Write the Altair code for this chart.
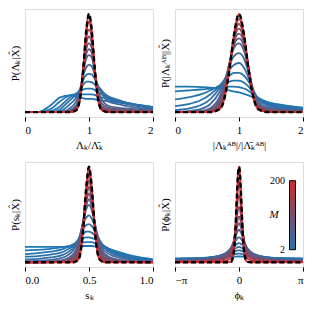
import altair as alt
import pandas as pd

M_VALUES = [2, 4, 8, 14, 22, 35, 55, 70, 85, 105, 130, 165, 200]

# Panel 1: Lambda_k / mean Lambda_k
X_LAMBDA = [0, 0.2, 0.4, 0.55, 0.7, 0.8, 0.86, 0.91, 0.96, 1.0, 1.04, 1.09,
            1.14, 1.2, 1.3, 1.45, 1.6, 1.8, 2.0]
Y_LAMBDA = [
    [0, 0, 7, 15, 17, 16, 15, 14, 13.5, 13.5, 13.5, 13, 12.5, 12, 11, 10, 8.5, 6.5, 5],
    [0, 0, 3, 11, 17, 18, 18, 18, 18, 18, 18, 17.5, 16, 15, 13, 11, 9, 7, 5],
    [0, 0, 1, 6, 15, 19, 21, 23, 24, 24, 24, 22.5, 20, 18, 15, 12, 9.5, 7, 5],
    [0, 0, 0, 3, 12, 18, 23, 28, 31, 31, 30.5, 28, 25, 21, 16, 12.5, 9.5, 6.5, 4.5],
    [0, 0, 0, 1, 8, 15, 24, 33, 38, 39, 38.5, 34, 27, 22, 14, 10.5, 8, 5.5, 4],
    [0, 0, 0, 0, 4, 11, 22, 37, 46, 48, 47, 38, 26, 19, 11, 8, 6, 4, 3],
    [0, 0, 0, 0, 2, 7, 19, 40, 55, 58, 56, 41, 22, 13, 6.5, 4.5, 3.5, 2.5, 2],
    [0, 0, 0, 0, 1, 5.5, 18, 41, 60, 64, 61, 41.5, 19, 9, 4.5, 3, 2.5, 1.7, 1.3],
    [0, 0, 0, 0, 0.5, 4.5, 17, 42, 65, 70, 66, 42, 17, 6, 3, 2, 1.5, 1, 0.7],
    [0, 0, 0, 0, 0.2, 3.5, 16, 42.5, 70, 77, 71, 42.5, 16, 4.5, 2, 1.2, 0.9, 0.6, 0.4],
    [0, 0, 0, 0, 0, 3, 15, 43, 76, 84, 76, 43, 15, 3.5, 1, 0.5, 0.3, 0.2, 0.1],
    [0, 0, 0, 0, 0, 2.5, 14.5, 43.5, 81, 92, 81, 43.5, 14.5, 2.7, 0.5, 0.2, 0.1, 0.1, 0],
    [0, 0, 0, 0, 0, 2, 14, 44, 85, 100, 85, 44, 14, 2, 0, 0, 0, 0, 0],
]

# Panel 2: |Lambda^AB_k| / |mean Lambda^AB_k|
X_LAMBDA_AB = [0, 0.2, 0.4, 0.55, 0.7, 0.78, 0.85, 0.92, 1.0, 1.08, 1.15, 1.22,
               1.3, 1.45, 1.6, 1.8, 2.0]
Y_LAMBDA_AB = [
    [26, 26, 25.5, 25, 24, 23, 22, 21, 20, 18.5, 17, 15, 13, 10, 8, 6, 4.5],
    [21, 22, 23, 24, 25, 25.5, 26, 26, 25.5, 24, 21.5, 18, 14.5, 10, 7.5, 5.5, 4],
    [13, 15, 18, 22, 27, 29, 31, 32, 32, 30, 26, 20, 14, 9, 6.5, 5, 3.5],
    [6, 8, 12, 18, 27, 33, 37, 40, 40, 37, 31, 22, 14, 8, 5.5, 4, 3],
    [2, 3.5, 7, 13, 25, 34, 43, 48, 50, 45, 35, 23, 13, 7, 4.5, 3.5, 2.5],
    [0.5, 1, 3, 8, 21, 33, 47, 57, 60, 54, 40, 23, 11, 5, 3.5, 2.5, 2],
    [0, 0.3, 1, 4, 16, 30, 50, 65, 70, 62, 43, 22, 9, 3.5, 2.5, 1.5, 1],
    [0, 0.1, 0.6, 2.7, 13, 27.5, 49.5, 68, 75, 66, 44, 21, 7.5, 2.7, 1.8, 1.1, 0.7],
    [0, 0, 0.3, 1.5, 10, 25, 49, 71, 80, 70, 45, 20, 6, 2, 1.2, 0.7, 0.5],
    [0, 0, 0.1, 1, 8, 22.5, 47.5, 73, 85, 72.5, 45, 19, 5.2, 1.5, 0.8, 0.5, 0.3],
    [0, 0, 0, 0.5, 6, 20, 46, 75, 90, 75, 45, 18, 4.5, 1, 0.5, 0.3, 0.2],
    [0, 0, 0, 0.2, 4.5, 18, 44.5, 76.5, 95, 76.5, 44, 17, 3.7, 0.5, 0.2, 0.1, 0.1],
    [0, 0, 0, 0, 3, 16, 43, 78, 100, 78, 43, 16, 3, 0, 0, 0, 0],
]

# Panel 3: s_k
X_S = [0, 0.1, 0.2, 0.3, 0.38, 0.42, 0.45, 0.48, 0.5, 0.52, 0.55, 0.58, 0.62,
       0.7, 0.8, 0.9, 1.0]
Y_S = [
    [16, 16, 16, 16, 16.5, 17, 17, 17, 17, 17, 16.5, 16, 15, 12, 8, 5, 3],
    [12.5, 13, 14, 16, 18, 19.5, 20.5, 21, 21, 21, 20, 18.5, 16, 12, 7.5, 4.5, 2.5],
    [8.5, 9.5, 11, 14, 19, 22.5, 25, 26, 26, 25.5, 24, 21, 17, 11, 6.5, 4, 2],
    [5.8, 6.5, 8, 11, 18, 24, 29, 32, 32, 31, 28, 23, 16, 9.5, 5.5, 3, 1.5],
    [3, 3.5, 5, 8, 16, 25, 34, 39, 40, 38, 32, 24, 15, 8, 4.5, 2.5, 1.2],
    [1, 1.5, 2.5, 5, 13, 24, 38, 47, 49, 46, 36, 23, 12, 6, 3, 1.5, 0.8],
    [0.3, 0.5, 1, 2.5, 9, 22, 40, 56, 60, 55, 38, 20, 9, 3.5, 1.5, 0.8, 0.4],
    [0.1, 0.2, 0.6, 1.7, 7, 19.5, 39.5, 60, 66, 59, 37.5, 17.5, 7, 2.5, 1.1, 0.5, 0.2],
    [0, 0, 0.3, 1, 5, 17, 39, 64, 72, 63, 37, 15, 5, 1.5, 0.7, 0.3, 0.1],
    [0, 0, 0.1, 0.6, 3.5, 13.5, 36.5, 68, 79, 67.5, 34.5, 12, 3.5, 1, 0.4, 0.1, 0],
    [0, 0, 0, 0.3, 2, 10, 34, 72, 86, 72, 32, 9, 2, 0.5, 0.2, 0, 0],
    [0, 0, 0, 0.1, 1, 6.5, 30.5, 76.5, 93, 76.5, 29.5, 6.3, 1, 0.2, 0.1, 0, 0],
    [0, 0, 0, 0, 0, 3.5, 27, 81, 100, 81, 27, 3.5, 0, 0, 0, 0, 0],
]

# Panel 4: phi_k
X_PHI = [-3.14159, -2.4, -1.6, -1.0, -0.6, -0.4, -0.27, -0.18, -0.1, -0.05, 0,
         0.05, 0.1, 0.18, 0.27, 0.4, 0.6, 1.0, 1.6, 2.4, 3.14159]
Y_PHI = [
    [4, 4.2, 4.6, 5, 5.3, 5.6, 5.8, 5.9, 6, 6, 6, 6, 6, 5.9, 5.8, 5.6, 5.3, 5, 4.6, 4.2, 4],
    [3.5, 3.9, 4.7, 5.7, 6.8, 7.5, 8.1, 8.5, 8.8, 9, 9, 9, 8.8, 8.5, 8.1, 7.5, 6.8, 5.7, 4.7, 3.9, 3.5],
    [3, 3.5, 4.6, 6.3, 8.2, 9.6, 10.7, 11.5, 12.1, 12.4, 12.5, 12.4, 12.1, 11.5, 10.7, 9.6, 8.2, 6.3, 4.6, 3.5, 3],
    [2.6, 3.1, 4.5, 6.5, 9.3, 11.5, 13.2, 14.5, 15.4, 15.8, 16, 15.8, 15.4, 14.5, 13.2, 11.5, 9.3, 6.5, 4.5, 3.1, 2.6],
    [2.3, 2.8, 4.2, 6.6, 10, 13, 15.8, 17.8, 19.2, 19.8, 20, 19.8, 19.2, 17.8, 15.8, 13, 10, 6.6, 4.2, 2.8, 2.3],
    [2, 2.4, 3.8, 6.2, 10.5, 14.5, 18.5, 22, 24.5, 25.6, 26, 25.6, 24.5, 22, 18.5, 14.5, 10.5, 6.2, 3.8, 2.4, 2],
    [1.6, 2, 3.2, 5.5, 10, 15, 20.5, 26, 31, 33, 34, 33, 31, 26, 20.5, 15, 10, 5.5, 3.2, 2, 1.6],
    [1.35, 1.7, 2.8, 4.8, 8.8, 14, 21, 28.5, 36, 39.5, 41, 39.5, 36, 28.5, 21, 14, 8.8, 4.8, 2.8, 1.7, 1.35],
    [1.1, 1.4, 2.3, 4, 7.5, 13, 21, 31, 41, 46, 48, 46, 41, 31, 21, 13, 7.5, 4, 2.3, 1.4, 1.1],
    [0.85, 1.1, 1.8, 3.1, 5.7, 10.5, 19.5, 33, 48, 55, 58, 55, 48, 33, 19.5, 10.5, 5.7, 3.1, 1.8, 1.1, 0.85],
    [0.6, 0.8, 1.3, 2.2, 4, 8, 18, 35, 56, 66, 70, 66, 56, 35, 18, 8, 4, 2.2, 1.3, 0.8, 0.6],
    [0.3, 0.4, 0.6, 1.1, 2, 4, 13, 34, 63, 79, 85, 79, 63, 34, 13, 4, 2, 1.1, 0.6, 0.4, 0.3],
    [0, 0, 0, 0, 0, 0.4, 8, 32, 71, 92, 100, 92, 71, 32, 8, 0.4, 0, 0, 0, 0, 0],
]

# Colour bar guide (M from 2 to 200)
CB_TICKS = [min(M_VALUES), max(M_VALUES)]
CB_LABELS = ["2", "200"]

FONT = "Liberation Serif"
BLUE, RED = "#1f77b4", "#d62728"


def to_frame(xs, rows):
    recs = []
    for m, row in zip(M_VALUES, rows):
        for x, y in zip(xs, row):
            recs.append({"M": m, "x": x, "y": y})
    return pd.DataFrame(recs)


def panel(df, xdom, xvals, xtitle, ytitle, h, label_expr=None, fmt=None):
    axis_kw = dict(values=xvals, title=xtitle, grid=False, domain=False,
                   tickColor="black", tickSize=4, labelPadding=3,
                   labelFont=FONT, labelFontSize=11, labelColor="black",
                   titleFont=FONT, titleFontSize=11, titleFontWeight="normal",
                   titleColor="black", titlePadding=4)
    if label_expr:
        axis_kw["labelExpr"] = label_expr
    if fmt:
        axis_kw["format"] = fmt
    xenc = alt.X("x:Q", scale=alt.Scale(domain=xdom, nice=False, zero=False),
                 axis=alt.Axis(**axis_kw))
    yscale = alt.Scale(domain=[-5, 105], nice=False, zero=False)
    yenc = alt.Y("y:Q", scale=yscale,
                 axis=alt.Axis(title=ytitle, labels=False, ticks=False, domain=False,
                               grid=False, titleFont=FONT, titleFontSize=11,
                               titleFontWeight="normal", titleColor="black",
                               titlePadding=5))
    base = alt.Chart(df)
    lines = base.mark_line(strokeWidth=1.8, interpolate="monotone", clip=True).encode(
        x=xenc, y=yenc,
        color=alt.Color("M:Q", scale=alt.Scale(domain=[2, 200], range=[BLUE, RED],
                                               interpolate="rgb"), legend=None),
    )
    dashed = base.transform_filter("datum.M == 200").mark_line(
        color="black", strokeDash=[5, 3], strokeWidth=2.4,
        interpolate="monotone", clip=True).encode(x="x:Q", y=alt.Y("y:Q", scale=yscale))
    return alt.layer(lines, dashed).properties(width=128, height=h)


p1 = panel(to_frame(X_LAMBDA, Y_LAMBDA), [0, 2], [0, 1, 2],
           "Λₖ/Λ̄ₖ", "P(Λₖ|X̂)", 108, fmt=".0f")
p2 = panel(to_frame(X_LAMBDA_AB, Y_LAMBDA_AB), [0, 2], [0, 1, 2],
           "|Λₖᴬᴮ|/|Λ̄ₖᴬᴮ|", "P(|Λₖᴬᴮ||X̂)", 108, fmt=".0f")
p3 = panel(to_frame(X_S, Y_S), [0, 1], [0, 0.5, 1],
           "sₖ", "P(sₖ|X̂)", 105, fmt=".1f")
p4_main = panel(to_frame(X_PHI, Y_PHI), [-3.14159, 3.14159], [-3.14159, 0, 3.14159],
                "ϕₖ", "P(ϕₖ|X̂)", 105,
                label_expr="datum.value < -1 ? '−π' : (datum.value > 1 ? 'π' : '0')")

# colour bar drawn inside the phi panel
cb_scale = alt.Scale(domain=CB_TICKS, range=[87.7, 18.7], nice=False, zero=False)
grad = alt.LinearGradient(
    gradient="linear",
    stops=[alt.GradientStop(color=BLUE, offset=0), alt.GradientStop(color=RED, offset=1)],
    x1=0, x2=0, y1=1, y2=0,
)
cb_bar = alt.Chart(pd.DataFrame({"lo": [CB_TICKS[0]], "hi": [CB_TICKS[1]]})).mark_rect(
    fill=grad, stroke="black", strokeWidth=1
).encode(
    x=alt.value(114.5), x2=alt.value(120.5),
    y=alt.Y("lo:Q", scale=cb_scale, axis=None), y2="hi:Q",
)
cb_text = alt.Chart(pd.DataFrame({"v": CB_TICKS, "t": CB_LABELS})).mark_text(
    align="right", baseline="middle", font=FONT, fontSize=10, color="black"
).encode(
    x=alt.value(110), y=alt.Y("v:Q", scale=cb_scale, axis=None), text="t:N",
)
cb_title = alt.Chart(pd.DataFrame({"v": [sum(CB_TICKS) / 2], "t": ["M"]})).mark_text(
    align="center", baseline="middle", font=FONT, fontSize=11, fontStyle="italic",
    color="black"
).encode(
    x=alt.value(99), y=alt.Y("v:Q", scale=cb_scale, axis=None), text="t:N",
)
p4 = alt.layer(p4_main, cb_bar, cb_text, cb_title).resolve_scale(y="independent")

chart = alt.vconcat(
    alt.hconcat(p1, p2, spacing=4),
    alt.hconcat(p3, p4, spacing=4),
    spacing=10,
).properties(
    padding={"left": 0, "top": 0, "right": 0, "bottom": 0}
).configure_view(
    stroke="black", strokeWidth=1
).configure(background="white")

chart.save("out.html", embed_options={"renderer": "svg", "actions": False})
